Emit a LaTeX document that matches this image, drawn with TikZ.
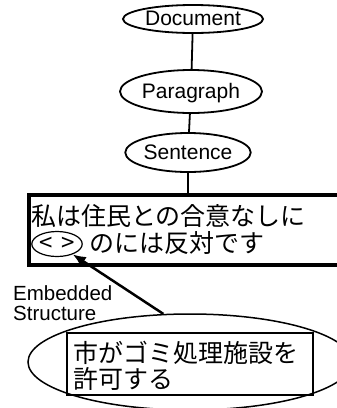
\documentclass[tikz,border=0pt]{standalone}
\usepackage{fontspec}
\setmainfont{Liberation Sans}
\newfontfamily\jp{Noto Sans CJK JP}
\usetikzlibrary{shapes.geometric,arrows.meta}
\begin{document}
\begin{tikzpicture}[x=1pt,y=-1pt,
  lvl/.style={draw,ellipse,line width=1.8pt,inner sep=0pt,font=\fontsize{21}{25}\selectfont,text height=15pt,text depth=2pt},
  jptext/.style={anchor=base west,inner sep=0pt,font=\jp\fontsize{25}{27}\selectfont},
  conn/.style={line width=1.8pt}]
\useasboundingbox (0,0) rectangle (337,408);
\clip (0,0) rectangle (337,408);
\node[lvl,minimum width=140pt,minimum height=28pt] (doc) at (193,19) {Document};
\node[lvl,minimum width=142pt,minimum height=43pt] (para) at (191,91.5) {Paragraph};
\node[lvl,minimum width=120pt,minimum height=39pt] (sent) at (188,152.5) {Sentence};
\node[draw,line width=4pt,minimum width=316pt,minimum height=70pt,inner sep=0pt] (sbox) at (187,230) {};
\draw[conn] (doc) -- (para);
\draw[conn] (para) -- (sent);
\draw[conn] (sent.south) -- (sent.south |- sbox.north);
\node[jptext] (t1) at (31,225.5) {私は住民との合意なしに};
\node[draw,ellipse,line width=1.2pt,minimum width=44pt,minimum height=25pt,inner sep=0pt,font=\jp\fontsize{24}{26}\selectfont,text height=14pt,text depth=0pt] (lt) at (57,244) {<\hspace{9pt}>};
\node[jptext] (t2) at (89.5,252.5) {のには反対です};
\node[draw,ellipse,line width=1.5pt,minimum width=324pt,minimum height=96pt,inner sep=0pt] (big) at (190,362) {};
\node[draw,line width=1.8pt,minimum width=246pt,minimum height=62pt,inner sep=0pt] (ibox) at (190,364) {};
\node[jptext] (b1) at (73,362.5) {市がゴミ処理施設を};
\node[jptext] (b2) at (73,388.5) {許可する};
\node[anchor=north west,align=left,inner sep=0pt,font=\fontsize{20.5}{20}\selectfont] (emb) at (13,285) {Embedded\\Structure};
\draw[line width=2.5pt,-{Latex[length=13pt,width=11pt]}] (big.119) -- (lt);
\end{tikzpicture}
\end{document}
